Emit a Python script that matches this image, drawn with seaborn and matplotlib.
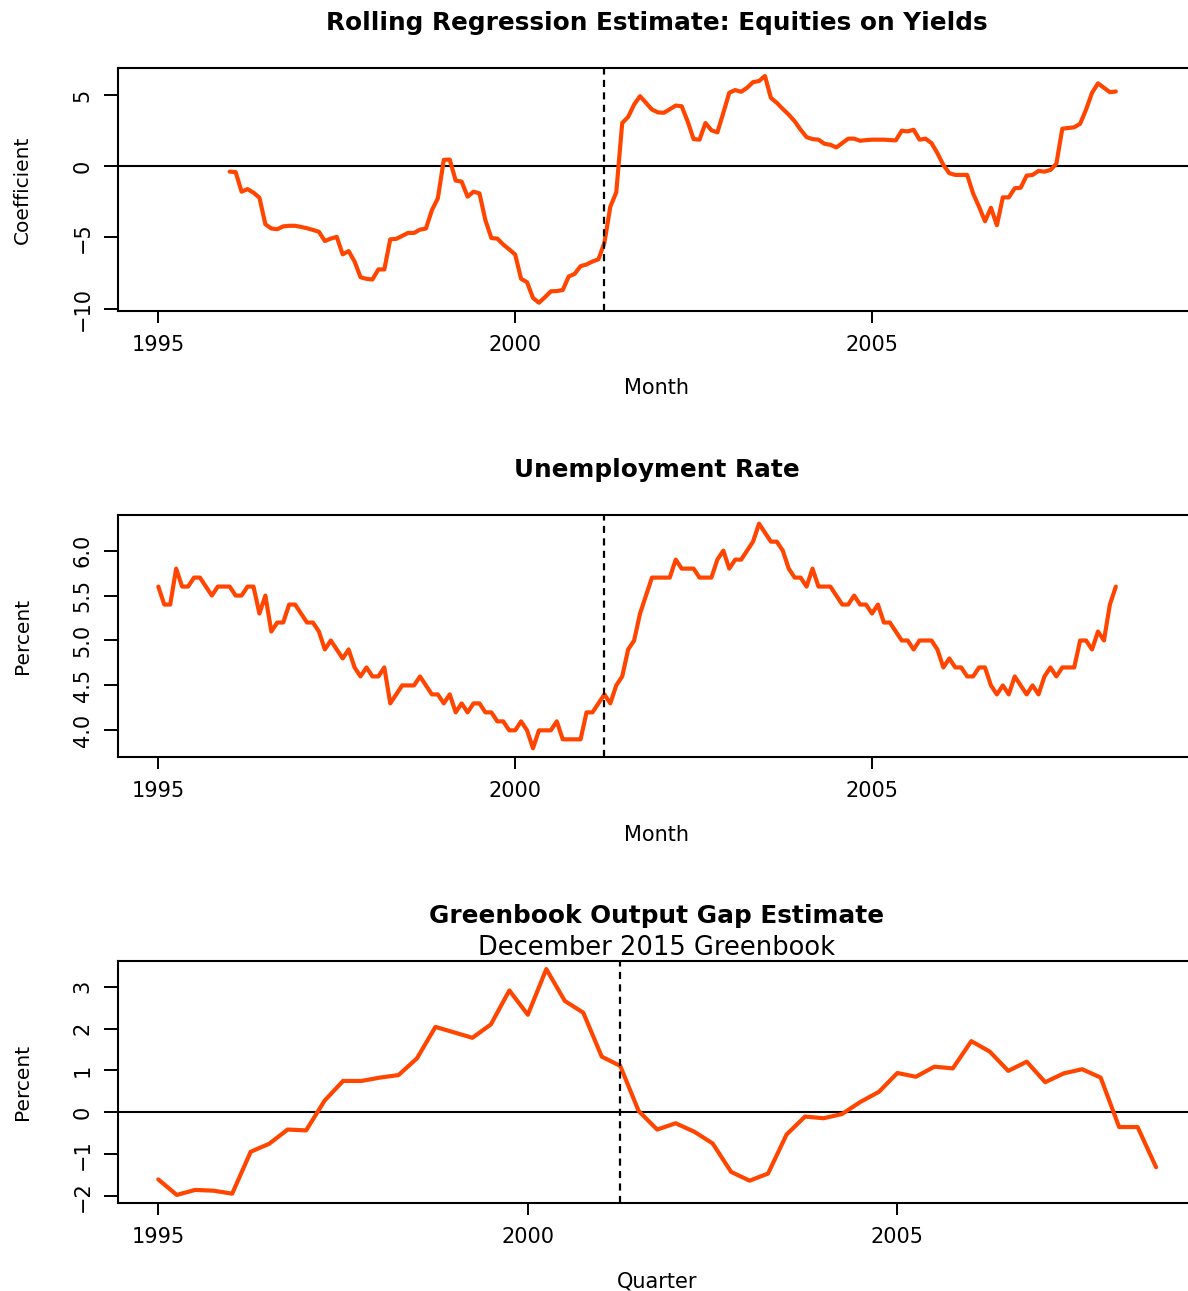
import numpy as np
import pandas as pd
import matplotlib
matplotlib.use("Agg")
import matplotlib.pyplot as plt
import seaborn as sns

# ---------------- data ----------------
coef_start = "1996-01"   # monthly rolling-regression coefficient
coef = [
    -0.37, -0.40, -1.78, -1.60, -1.85, -2.20, -4.07, -4.37, -4.42, -4.22, -4.18, -4.18,
    -4.26, -4.35, -4.47, -4.60, -5.25, -5.08, -4.96, -6.19, -5.96, -6.69, -7.80, -7.91,
    -7.96, -7.25, -7.25, -5.13, -5.10, -4.89, -4.68, -4.68, -4.45, -4.37, -3.08, -2.25,
    0.46, 0.48, -1.00, -1.07, -2.13, -1.78, -1.90, -3.79, -5.04, -5.08, -5.50, -5.84,
    -6.20, -7.91, -8.15, -9.26, -9.59, -9.21, -8.79, -8.77, -8.70, -7.75, -7.56, -7.02,
    -6.90, -6.69, -6.54, -5.39, -2.84, -1.83, 3.05, 3.48, 4.35, 4.94, 4.47, 4.00,
    3.80, 3.77, 4.02, 4.28, 4.23, 3.17, 1.92, 1.88, 3.05, 2.54, 2.39, 3.76,
    5.18, 5.37, 5.25, 5.53, 5.93, 6.00, 6.36, 4.82, 4.47, 4.04, 3.64, 3.17,
    2.58, 2.06, 1.92, 1.88, 1.59, 1.52, 1.33, 1.64, 1.95, 1.95, 1.80, 1.85,
    1.88, 1.88, 1.88, 1.85, 1.83, 2.51, 2.46, 2.58, 1.88, 1.95, 1.64, 0.93,
    0.10, -0.48, -0.60, -0.60, -0.60, -1.90, -2.84, -3.86, -2.91, -4.14, -2.18, -2.18,
    -1.54, -1.50, -0.65, -0.60, -0.32, -0.37, -0.25, 0.18, 2.65, 2.70, 2.75, 3.00,
    4.00, 5.18, 5.84, 5.53, 5.22, 5.27,
]

unemp_start = "1995-01"  # monthly unemployment rate, percent
unemp = [
    5.6, 5.4, 5.4, 5.8, 5.6, 5.6, 5.7, 5.7, 5.6, 5.5, 5.6, 5.6,
    5.6, 5.5, 5.5, 5.6, 5.6, 5.3, 5.5, 5.1, 5.2, 5.2, 5.4, 5.4,
    5.3, 5.2, 5.2, 5.1, 4.9, 5.0, 4.9, 4.8, 4.9, 4.7, 4.6, 4.7,
    4.6, 4.6, 4.7, 4.3, 4.4, 4.5, 4.5, 4.5, 4.6, 4.5, 4.4, 4.4,
    4.3, 4.4, 4.2, 4.3, 4.2, 4.3, 4.3, 4.2, 4.2, 4.1, 4.1, 4.0,
    4.0, 4.1, 4.0, 3.8, 4.0, 4.0, 4.0, 4.1, 3.9, 3.9, 3.9, 3.9,
    4.2, 4.2, 4.3, 4.4, 4.3, 4.5, 4.6, 4.9, 5.0, 5.3, 5.5, 5.7,
    5.7, 5.7, 5.7, 5.9, 5.8, 5.8, 5.8, 5.7, 5.7, 5.7, 5.9, 6.0,
    5.8, 5.9, 5.9, 6.0, 6.1, 6.3, 6.2, 6.1, 6.1, 6.0, 5.8, 5.7,
    5.7, 5.6, 5.8, 5.6, 5.6, 5.6, 5.5, 5.4, 5.4, 5.5, 5.4, 5.4,
    5.3, 5.4, 5.2, 5.2, 5.1, 5.0, 5.0, 4.9, 5.0, 5.0, 5.0, 4.9,
    4.7, 4.8, 4.7, 4.7, 4.6, 4.6, 4.7, 4.7, 4.5, 4.4, 4.5, 4.4,
    4.6, 4.5, 4.4, 4.5, 4.4, 4.6, 4.7, 4.6, 4.7, 4.7, 4.7, 5.0,
    5.0, 4.9, 5.1, 5.0, 5.4, 5.6,
]

gap_start = "1995Q1"     # quarterly Greenbook output gap, percent
gap = [
    -1.60, -1.97, -1.85, -1.87,
    -1.94, -0.94, -0.75, -0.41,
    -0.43, 0.28, 0.75, 0.75,
    0.83, 0.89, 1.29, 2.04,
    1.91, 1.78, 2.10, 2.91,
    2.33, 3.42, 2.66, 2.38,
    1.33, 1.11, 0.03, -0.41,
    -0.26, -0.46, -0.74, -1.42,
    -1.63, -1.46, -0.53, -0.10,
    -0.14, -0.04, 0.25, 0.49,
    0.94, 0.85, 1.09, 1.05,
    1.70, 1.45, 0.99, 1.21,
    0.72, 0.93, 1.03, 0.83,
    -0.35, -0.35, -1.31,
]

recession_start = 2001.25
year_ticks = [1995, 2000, 2005]
coef_yticks = [-10, -5, 0, 5]
unemp_yticks = [4.0, 4.5, 5.0, 5.5, 6.0]
gap_yticks = [-2, -1, 0, 1, 2, 3]

titles = ["Rolling Regression Estimate: Equities on Yields",
          "Unemployment Rate",
          "Greenbook Output Gap Estimate"]
subtitle = "December 2015 Greenbook"
ylabels = ["Coefficient", "Percent", "Percent"]
xlabels = ["Month", "Month", "Quarter"]

# ---------------- helpers ----------------
def monthly_frame(start, values):
    p = pd.period_range(start, periods=len(values), freq="M")
    return pd.DataFrame({"t": p.year + (p.month - 1) / 12.0, "v": values})

def quarterly_frame(start, values):
    p = pd.period_range(start, periods=len(values), freq="Q")
    return pd.DataFrame({"t": p.year + (p.quarter - 1) / 4.0, "v": values})

df_coef = monthly_frame(coef_start, coef)
df_unemp = monthly_frame(unemp_start, unemp)
df_gap = quarterly_frame(gap_start, gap)

# ---------------- style ----------------
sns.set_theme(style="white")
plt.rcParams["font.family"] = ["DejaVu Sans"]
plt.rcParams["axes.unicode_minus"] = True

W, H = 1188, 1291
fig = plt.figure(figsize=(W / 100, H / 100), dpi=100, facecolor="white")

LINE = "#FF4500"
ax_left, ax_right = 118, 1196
BASE = 15
TITLE = 17.8

def fmt_tick(v, f):
    s = f.format(v)
    return s.replace("-", "\u2212")

panels = [
    dict(df=df_coef, top=68.3, bottom=310.8, xlim=(1994.435, 2009.54),
         ylim=(-10.16, 6.9), yticks=coef_yticks, yfmt="{:g}", zero=True,
         title_y=23, xlabel_y=388),
    dict(df=df_unemp, top=514.7, bottom=757.3, xlim=(1994.435, 2009.54),
         ylim=(3.70, 6.40), yticks=unemp_yticks, yfmt="{:.1f}", zero=False,
         title_y=470, xlabel_y=835),
    dict(df=df_gap, top=960.7, bottom=1203.3, xlim=(1994.455, 2009.04),
         ylim=(-2.17, 3.62), yticks=gap_yticks, yfmt="{:g}", zero=True,
         title_y=916, xlabel_y=1281),
]

for i, p in enumerate(panels):
    rect = [ax_left / W, 1 - p["bottom"] / H,
            (ax_right - ax_left) / W, (p["bottom"] - p["top"]) / H]
    ax = fig.add_axes(rect)
    ax.set_facecolor("white")

    if p["zero"]:
        ax.axhline(0, color="black", lw=1.5, zorder=1)
    ax.axvline(recession_start, color="black", lw=1.6,
               ls=(0, (3.2, 2.4)), zorder=3)

    sns.lineplot(data=p["df"], x="t", y="v", ax=ax, color=LINE,
                 linewidth=3.0, estimator=None, sort=False, zorder=2)

    ax.set_xlim(*p["xlim"])
    ax.set_ylim(*p["ylim"])
    ax.set_xlabel("")
    ax.set_ylabel("")

    ax.set_xticks(year_ticks)
    ax.set_xticklabels([str(y) for y in year_ticks])
    ax.set_yticks(p["yticks"])
    ax.set_yticklabels([fmt_tick(v, p["yfmt"]) for v in p["yticks"]])
    for lab in ax.get_yticklabels():
        lab.set_rotation(90)
        lab.set_va("center")
        lab.set_ha("right")

    ax.tick_params(axis="x", direction="out", length=8.4, width=1.4,
                   pad=9, labelsize=BASE, colors="black", bottom=True)
    ax.tick_params(axis="y", direction="out", length=10.3, width=1.4,
                   pad=8, labelsize=BASE, colors="black", left=True)
    for s in ax.spines.values():
        s.set_visible(True)
        s.set_color("black")
        s.set_linewidth(1.5)
    ax.grid(False)

    cy = 1 - (p["top"] + p["bottom"]) / 2 / H
    fig.text(22 / W, cy, ylabels[i], rotation=90, ha="center", va="center",
             fontsize=BASE - 0.5, color="black")
    fig.text(657 / W, 1 - p["xlabel_y"] / H, xlabels[i], ha="center",
             va="center", fontsize=BASE, color="black")
    fig.text(657 / W, 1 - p["title_y"] / H, titles[i], ha="center",
             va="center", fontsize=TITLE, fontweight="bold", color="black")

fig.text(657 / W, 1 - 948 / H, subtitle, ha="center", va="center",
         fontsize=18.5, color="black")

fig.savefig("out.png", dpi=100, facecolor="white")
